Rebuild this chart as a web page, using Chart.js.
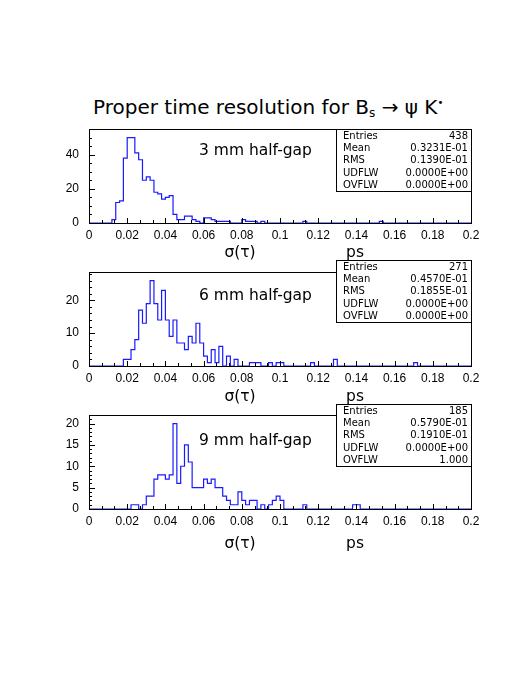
<!DOCTYPE html>
<html>
<head>
<meta charset="utf-8">
<script src="https://cdn.jsdelivr.net/npm/chart.js@4"></script>
<style>
  body { margin: 0; background: #fff; }
  #page { position: relative; width: 526px; height: 681px; overflow: hidden; font-family: "DejaVu Sans", sans-serif; color: #000; }
  canvas { position: absolute; left: 0; }
  .txt { position: absolute; white-space: nowrap; line-height: 1; }
  .stats { position: absolute; left: 336px; width: 134px; border: 1px solid #000; background: #fff; font-size: 10px; }
  .stats div { height: 12.2px; line-height: 12.2px; position: relative; }
  .stats span.l { position: absolute; left: 6px; }
  .stats span.v { position: absolute; right: 3px; }
</style>
</head>
<body>
<div id="page">
  <div class="txt" style="left:93px;top:97px;font-size:20px;">Proper time resolution for B<sub style="font-size:12px;vertical-align:-3px;">s</sub> &rarr; &psi; K<sup style="font-size:10px;vertical-align:8px;">&bull;</sup></div>
</div>
<script>
// histogram contents, 100 bins from 0 to 0.2 ps
var binLow = 0, binHigh = 0.2, nBins = 100;

var h3mm = [
  0, 0, 0, 0, 0, 0, 0, 2, 12, 13,
  38, 50, 50, 41, 37, 25, 27, 25, 18, 17,
  14, 15, 16, 5, 2, 2, 4, 4, 2, 1,
  0, 3, 3, 2, 1, 1, 1, 1, 0, 0,
  0, 2, 1, 1, 1, 0, 1, 0, 0, 0,
  0, 0, 0, 0, 0, 0, 0, 1, 0, 0,
  0, 0, 0, 0, 0, 0, 0, 0, 0, 0,
  0, 0, 0, 0, 0, 0, 0, 1, 0, 0,
  0, 0, 0, 0, 0, 0, 0, 0, 0, 0,
  0, 0, 0, 0, 0, 0, 0, 0, 0, 0];

var h6mm = [
  0, 0, 0, 0, 0, 0, 0, 0, 0, 0,
  2, 2, 5, 8, 17, 13, 19, 26, 19, 14,
  23, 14, 9, 14, 7, 7, 5, 9, 7, 13,
  7, 3, 1, 5, 1, 6, 0, 3, 0, 2,
  0, 0, 0, 1, 1, 1, 0, 0, 1, 0,
  1, 1, 0, 0, 0, 0, 0, 0, 0, 1,
  0, 0, 0, 0, 0, 2, 0, 0, 0, 0,
  0, 0, 0, 0, 0, 0, 0, 0, 0, 0,
  0, 0, 0, 0, 0, 0, 1, 0, 0, 0,
  0, 0, 0, 0, 0, 0, 0, 0, 0, 0];

var h9mm = [
  0, 0, 0, 0, 0, 0, 0, 0, 0, 0,
  0, 0, 1, 1, 0, 1, 3, 3, 7, 8,
  8, 7, 8, 20, 6, 10, 15, 11, 5, 5,
  5, 7, 6, 7, 5, 5, 3, 2, 1, 1,
  4, 2, 1, 2, 2, 0, 1, 0, 1, 2,
  3, 2, 0, 0, 0, 0, 0, 1, 0, 0,
  0, 0, 0, 0, 0, 0, 0, 0, 0, 0,
  1, 1, 0, 0, 0, 0, 0, 0, 0, 0,
  0, 0, 0, 0, 0, 0, 0, 0, 0, 0,
  0, 0, 0, 0, 0, 0, 0, 0, 0, 0];

var panelNames = ["3 mm half-gap", "6 mm half-gap", "9 mm half-gap"];
var yMaxes = [55, 28.6, 22];
var yLabelSteps = [20, 10, 5];
var yMinorSteps = [5, 2, 1];

var xTickLabels = ["0", "0.02", "0.04", "0.06", "0.08", "0.1", "0.12", "0.14", "0.16", "0.18", "0.2"];
var yTickLabels = [["0", "20", "40"], ["0", "10", "20"], ["0", "5", "10", "15", "20"]];

var statNames = ["Entries", "Mean", "RMS", "UDFLW", "OVFLW"];
var stats3mm = ["438", "0.3231E-01", "0.1390E-01", "0.0000E+00", "0.0000E+00"];
var stats6mm = ["271", "0.4570E-01", "0.1855E-01", "0.0000E+00", "0.0000E+00"];
var stats9mm = ["185", "0.5790E-01", "0.1910E-01", "0.0000E+00", "1.000"];

var hists = [h3mm, h6mm, h9mm];
var allStats = [stats3mm, stats6mm, stats9mm];

// layout of the three zones
var canvasTops = [119, 262, 405];
var nameTops = [151, 296, 441];
var axisTitleTops = [253, 397, 544];
var statsTops = [129, 260, 404];

var page = document.getElementById("page");

function addText(str, x, y, size, center) {
    var d = document.createElement("div");
    d.className = "txt";
    d.textContent = str;
    d.style.left = x + "px";
    d.style.top = y + "px";
    d.style.fontSize = size + "px";
    d.style.transform = center ? "translate(-50%,-50%)" : "translate(0,-50%)";
    page.appendChild(d);
}

// inward ticks + frame, PAW style
var framePlugin = {
    id: "frame",
    afterDatasetsDraw: function (chart, args, opts) {
        var ctx = chart.ctx, a = chart.chartArea;
        var xs = chart.scales.x, ys = chart.scales.y;
        ctx.save();
        ctx.strokeStyle = "#000";
        ctx.lineWidth = 1;
        ctx.beginPath();
        var xStep = 0.02 / 3;
        for (var j = 0; j <= 30; j++) {
            var px = Math.round(xs.getPixelForValue(j * xStep)) + 0.5;
            var len = (j % 3 == 0) ? 5 : 3;
            ctx.moveTo(px, a.bottom);
            ctx.lineTo(px, a.bottom - len);
        }
        var ms = opts.minor, big = opts.major;
        for (var v = 0; v <= ys.max + 1e-9; v += ms) {
            var py = Math.round(ys.getPixelForValue(v)) + 0.5;
            var l = (Math.abs(v / big - Math.round(v / big)) < 1e-6) ? 6 : 3;
            ctx.moveTo(a.left, py);
            ctx.lineTo(a.left + l, py);
        }
        ctx.stroke();
        ctx.strokeRect(Math.round(a.left) + 0.5, Math.round(a.top) + 0.5,
            Math.round(a.right - a.left), Math.round(a.bottom - a.top));
        ctx.restore();
    }
};

for (var p = 0; p < 3; p++) {
    var cv = document.createElement("canvas");
    cv.width = 526;
    cv.height = 143;
    cv.style.top = canvasTops[p] + "px";
    page.appendChild(cv);

    var h = hists[p];
    var pts = [];
    var bw = (binHigh - binLow) / nBins;
    for (var k = 0; k < nBins; k++) {
        pts.push({ x: binLow + k * bw, y: h[k] });
    }
    pts.push({ x: binHigh, y: h[nBins - 1] });

    (function (p) {
        new Chart(cv, {
            type: "line",
            data: {
                datasets: [{
                    data: pts,
                    stepped: "after",
                    borderColor: "#1a1aff",
                    borderWidth: 1.2,
                    pointRadius: 0,
                    fill: false
                }]
            },
            options: {
                responsive: false,
                animation: false,
                devicePixelRatio: 1,
                layout: { padding: { left: 0, right: 55, top: 10, bottom: 0 } },
                plugins: {
                    legend: { display: false },
                    tooltip: { enabled: false },
                    frame: { major: yLabelSteps[p], minor: yMinorSteps[p] }
                },
                scales: {
                    x: {
                        type: "linear",
                        min: binLow,
                        max: binHigh,
                        grid: { display: false, drawTicks: false },
                        border: { display: false },
                        ticks: {
                            stepSize: 0.02,
                            autoSkip: false,
                            maxRotation: 0,
                            padding: 5,
                            color: "#000",
                            font: { family: "Liberation Sans", size: 12 },
                            callback: function (v, i) { return xTickLabels[i]; }
                        },
                        afterFit: function (s) { s.height = 39; s.paddingLeft = 0; s.paddingRight = 0; }
                    },
                    y: {
                        min: 0,
                        max: yMaxes[p],
                        grid: { display: false, drawTicks: false },
                        border: { display: false },
                        ticks: {
                            stepSize: yLabelSteps[p],
                            includeBounds: false,
                            autoSkip: false,
                            padding: 10,
                            color: "#000",
                            font: { family: "Liberation Sans", size: 12 },
                            callback: function (v, i) { return yTickLabels[p][i]; }
                        },
                        afterFit: function (s) { s.width = 89; s.paddingTop = 0; s.paddingBottom = 0; }
                    }
                }
            },
            plugins: [framePlugin]
        });
    })(p);

    addText(panelNames[p], 199, nameTops[p], 15.5, false);

    var box = document.createElement("div");
    box.className = "stats";
    box.style.top = statsTops[p] + "px";
    for (var r = 0; r < statNames.length; r++) {
        var row = document.createElement("div");
        var l = document.createElement("span");
        l.className = "l";
        l.textContent = statNames[r];
        var v = document.createElement("span");
        v.className = "v";
        v.textContent = allStats[p][r];
        row.appendChild(l);
        row.appendChild(v);
        box.appendChild(row);
    }
    page.appendChild(box);

    addText("\u03c3(\u03c4)", 240, axisTitleTops[p], 15.5, true);
    addText("ps", 355, axisTitleTops[p], 15.5, true);
}
</script>
</body>
</html>
